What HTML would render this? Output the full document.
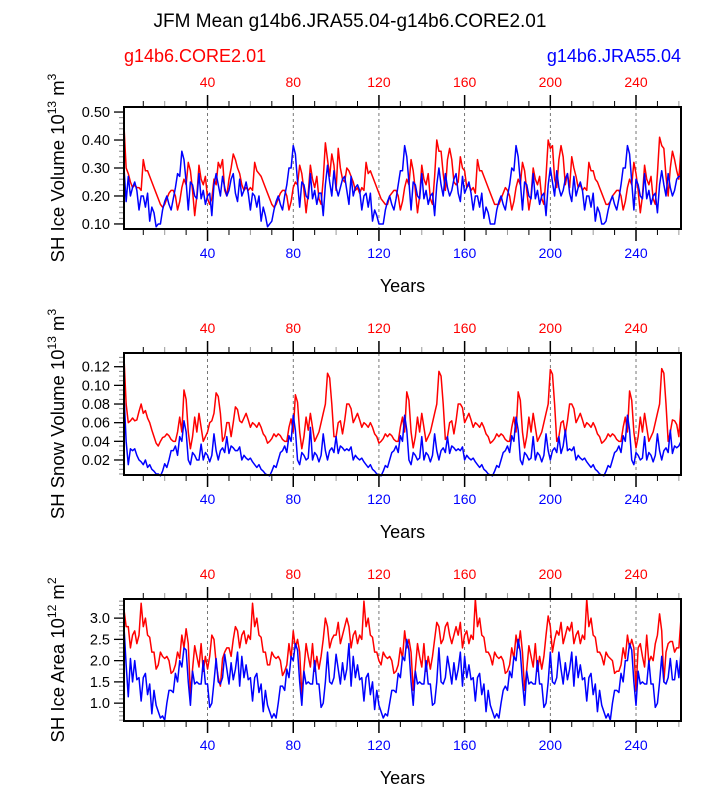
<!DOCTYPE html>
<html><head><meta charset="utf-8"><style>
html,body{margin:0;padding:0;background:#fff}
svg{display:block;font-family:"Liberation Sans",Arial,sans-serif}
</style></head><body>
<svg id="chart" width="723" height="785" viewBox="0 0 723 785">
<text x="350" y="27" font-size="19" text-anchor="middle">JFM Mean g14b6.JRA55.04-g14b6.CORE2.01</text>
<text x="124" y="62" font-size="18" fill="#ff0000">g14b6.CORE2.01</text>
<text x="681" y="62" font-size="18" fill="#0000ff" text-anchor="end">g14b6.JRA55.04</text>
</svg>
<script>
const xTicks = [40, 80, 120, 160, 200, 240];
const years0 = 1, years1 = 261;

const iceVolCore = [0.45,
0.30,0.28,0.25,0.23,0.24,0.23,0.23,0.22,0.33,0.29,0.29,0.27,0.25,0.23,0.21,0.19,0.17,0.16,0.17,0.19,0.21,0.22,0.22,0.20,0.15,0.18,0.23,0.26,0.24,0.32,0.29,0.22,0.13,0.20,0.31,0.26,0.24,0.27,0.19,0.17,0.19,0.26,0.24,0.32,0.30,0.33,0.22,0.20,0.26,0.30,0.35,0.33,
0.30,0.28,0.24,0.22,0.23,0.22,0.23,0.22,0.32,0.29,0.28,0.27,0.25,0.23,0.21,0.19,0.17,0.16,0.17,0.19,0.21,0.22,0.22,0.20,0.15,0.18,0.23,0.25,0.24,0.31,0.28,0.22,0.14,0.21,0.31,0.26,0.23,0.27,0.19,0.17,0.26,0.39,0.33,0.27,0.35,0.31,0.22,0.37,0.30,0.26,0.25,0.30,
0.29,0.27,0.25,0.22,0.23,0.21,0.23,0.22,0.32,0.28,0.29,0.27,0.25,0.23,0.21,0.19,0.18,0.17,0.17,0.20,0.21,0.22,0.22,0.20,0.15,0.18,0.23,0.26,0.24,0.33,0.29,0.22,0.14,0.20,0.31,0.26,0.24,0.28,0.19,0.17,0.27,0.40,0.36,0.36,0.28,0.22,0.33,0.37,0.33,0.25,0.24,0.25,
0.34,0.30,0.29,0.23,0.24,0.22,0.23,0.21,0.33,0.29,0.29,0.27,0.25,0.23,0.21,0.19,0.17,0.17,0.17,0.19,0.21,0.23,0.22,0.20,0.15,0.18,0.23,0.26,0.24,0.32,0.29,0.22,0.15,0.20,0.30,0.26,0.24,0.27,0.19,0.17,0.27,0.40,0.37,0.38,0.26,0.23,0.33,0.38,0.34,0.24,0.28,0.23,
0.34,0.30,0.27,0.23,0.24,0.22,0.23,0.22,0.32,0.29,0.29,0.26,0.25,0.23,0.21,0.19,0.17,0.17,0.18,0.20,0.21,0.22,0.22,0.20,0.15,0.18,0.23,0.26,0.24,0.32,0.28,0.22,0.14,0.20,0.31,0.26,0.24,0.27,0.19,0.17,0.28,0.41,0.38,0.37,0.27,0.20,0.30,0.36,0.33,0.29,0.26,0.37];

const iceVolJra = [0.30,
0.18,0.27,0.20,0.23,0.25,0.22,0.15,0.20,0.20,0.16,0.21,0.11,0.16,0.14,0.09,0.10,0.10,0.15,0.18,0.20,0.17,0.15,0.19,0.23,0.28,0.27,0.36,0.33,0.25,0.15,0.25,0.24,0.20,0.19,0.28,0.19,0.22,0.17,0.20,0.21,0.13,0.24,0.28,0.24,0.20,0.27,0.23,0.20,0.22,0.26,0.28,0.21,
0.18,0.26,0.20,0.22,0.25,0.21,0.15,0.21,0.20,0.16,0.20,0.11,0.16,0.13,0.09,0.10,0.11,0.15,0.18,0.20,0.17,0.15,0.20,0.24,0.30,0.30,0.38,0.35,0.25,0.16,0.25,0.24,0.20,0.19,0.28,0.19,0.22,0.17,0.21,0.21,0.13,0.24,0.31,0.25,0.20,0.29,0.23,0.20,0.23,0.26,0.27,0.22,
0.17,0.27,0.20,0.23,0.24,0.22,0.15,0.20,0.21,0.16,0.21,0.11,0.15,0.13,0.10,0.10,0.10,0.15,0.18,0.20,0.17,0.15,0.19,0.24,0.29,0.29,0.38,0.34,0.25,0.15,0.25,0.24,0.20,0.19,0.28,0.19,0.22,0.17,0.20,0.21,0.13,0.24,0.30,0.24,0.20,0.28,0.23,0.20,0.22,0.26,0.28,0.21,
0.18,0.27,0.21,0.23,0.25,0.21,0.15,0.20,0.20,0.16,0.21,0.12,0.16,0.14,0.10,0.10,0.10,0.15,0.18,0.20,0.17,0.15,0.20,0.24,0.30,0.29,0.38,0.34,0.25,0.15,0.25,0.24,0.20,0.19,0.28,0.19,0.22,0.17,0.20,0.21,0.13,0.24,0.30,0.25,0.20,0.29,0.23,0.20,0.22,0.26,0.28,0.21,
0.18,0.27,0.20,0.23,0.25,0.22,0.15,0.20,0.20,0.16,0.21,0.11,0.16,0.14,0.10,0.10,0.11,0.15,0.18,0.20,0.17,0.15,0.19,0.24,0.30,0.30,0.38,0.35,0.25,0.15,0.26,0.24,0.20,0.19,0.28,0.19,0.22,0.17,0.20,0.21,0.14,0.24,0.29,0.24,0.20,0.28,0.23,0.20,0.22,0.26,0.27,0.27];

const snowVolCore = [0.13,
.080,.060,.062,.065,.062,.063,.072,.080,.070,.073,.065,.060,.052,.045,.038,.035,.040,.044,.045,.048,.046,.042,.040,.040,.050,.066,.050,.095,.085,.050,.032,.045,.066,.050,.070,.055,.040,.045,.050,.060,.062,.070,.092,.088,.070,.040,.045,.060,.060,.045,.060,.077,
.074,.062,.060,.065,.070,.063,.055,.060,.058,.055,.060,.055,.048,.045,.038,.040,.043,.048,.045,.048,.046,.042,.040,.040,.055,.064,.050,.090,.082,.050,.032,.045,.066,.052,.070,.055,.040,.045,.050,.060,.070,.080,.113,.108,.080,.045,.045,.060,.062,.048,.062,.080,
.080,.075,.060,.065,.070,.063,.055,.060,.058,.055,.060,.055,.048,.045,.038,.040,.043,.048,.045,.048,.046,.042,.040,.040,.055,.066,.050,.093,.084,.050,.033,.045,.066,.050,.070,.055,.040,.045,.050,.060,.070,.080,.115,.110,.080,.042,.045,.060,.062,.048,.062,.080,
.080,.076,.060,.065,.070,.063,.055,.060,.058,.055,.060,.055,.048,.045,.038,.040,.043,.048,.045,.048,.046,.042,.040,.040,.055,.066,.050,.093,.084,.050,.033,.045,.066,.050,.070,.055,.040,.045,.050,.060,.070,.080,.117,.112,.080,.040,.045,.060,.062,.048,.062,.080,
.080,.075,.060,.065,.070,.063,.055,.060,.058,.055,.060,.055,.048,.045,.038,.040,.043,.048,.045,.048,.046,.042,.040,.040,.055,.066,.050,.094,.084,.050,.033,.045,.066,.050,.070,.055,.040,.045,.050,.060,.070,.080,.118,.113,.080,.040,.050,.063,.062,.058,.045,.080];

const snowVolJra = [0.09,
.040,.015,.032,.030,.032,.025,.020,.018,.015,.020,.012,.015,.010,.008,.005,.005,.003,.008,.016,.012,.020,.030,.030,.035,.025,.045,.040,.062,.050,.020,.015,.028,.025,.020,.020,.037,.020,.028,.025,.018,.025,.048,.030,.020,.030,.033,.028,.045,.027,.035,.033,.030,
.030,.034,.020,.025,.022,.020,.022,.018,.015,.012,.015,.010,.008,.005,.004,.003,.008,.014,.012,.020,.028,.030,.035,.028,.046,.040,.068,.052,.020,.015,.028,.025,.020,.022,.055,.020,.028,.025,.018,.025,.048,.030,.020,.030,.033,.028,.045,.027,.035,.033,.030,.032,
.030,.034,.020,.025,.022,.020,.022,.018,.015,.012,.015,.010,.008,.005,.004,.003,.008,.014,.012,.020,.028,.030,.035,.028,.046,.040,.068,.052,.020,.015,.028,.025,.020,.022,.045,.020,.028,.025,.018,.025,.048,.030,.020,.030,.033,.028,.045,.027,.035,.033,.030,.032,
.030,.034,.020,.025,.022,.020,.022,.018,.015,.012,.015,.010,.008,.005,.004,.003,.008,.014,.012,.020,.028,.030,.035,.028,.046,.040,.066,.052,.020,.015,.028,.025,.020,.022,.045,.020,.028,.025,.018,.025,.048,.030,.020,.030,.033,.028,.045,.027,.035,.052,.030,.032,
.030,.034,.020,.025,.022,.020,.022,.018,.015,.012,.015,.010,.008,.005,.004,.003,.008,.014,.012,.020,.028,.030,.035,.028,.046,.040,.068,.052,.020,.015,.028,.025,.020,.022,.045,.020,.028,.025,.018,.025,.048,.030,.020,.030,.033,.028,.052,.027,.035,.033,.035,.040];

const iceAreaCore = [3.2,
2.8,2.8,2.3,2.6,2.7,2.4,2.6,3.35,2.8,3.0,2.6,2.55,2.2,2.2,1.8,1.9,2.2,2.1,2.05,2.1,2.0,1.7,1.75,1.9,2.2,2.05,2.6,2.3,2.75,2.4,1.2,1.8,2.35,2.1,1.85,2.4,1.75,2.1,1.8,2.1,2.6,2.5,1.95,1.6,1.4,2.05,2.2,2.3,2.3,2.1,2.5,2.8,
2.7,2.3,2.6,2.7,2.4,2.6,2.5,3.35,2.8,3.0,2.6,2.55,2.2,2.2,1.9,1.9,2.2,2.1,2.05,2.1,2.0,1.65,1.75,1.9,2.4,2.05,2.7,2.3,2.5,2.2,1.2,1.8,2.4,2.1,1.85,2.4,1.75,2.1,1.8,2.1,2.5,3.0,2.8,2.3,2.5,2.6,2.6,2.9,2.4,2.6,2.8,3.0,
2.8,2.3,2.6,2.7,2.4,2.6,2.5,3.4,2.8,3.0,2.6,2.55,2.2,2.2,2.0,1.9,2.2,2.1,2.05,2.1,2.0,1.7,1.75,1.9,2.3,2.05,2.7,2.3,2.5,2.2,1.3,1.8,2.4,2.1,1.85,2.4,1.75,2.1,1.8,2.1,2.5,2.9,2.8,2.4,2.5,2.8,2.9,2.6,2.4,2.6,2.8,2.6,
2.9,2.3,2.6,2.7,2.4,2.6,2.5,3.45,2.8,3.0,2.6,2.55,2.2,2.2,2.1,1.9,2.2,2.1,2.05,2.1,2.0,1.7,1.75,1.9,2.3,2.05,2.6,2.3,2.7,2.2,1.3,1.8,2.35,2.1,1.85,2.4,1.75,2.1,1.8,2.1,2.6,3.05,2.8,2.2,2.5,2.7,2.6,2.9,2.4,2.6,2.8,2.7,
2.9,2.4,2.6,2.7,2.4,2.6,2.5,3.45,2.8,3.0,2.6,2.55,2.2,2.2,2.1,1.9,2.2,2.1,2.05,2.0,1.7,1.75,1.75,1.9,2.3,2.05,2.6,2.3,2.5,2.3,1.3,2.3,2.4,2.1,1.85,2.6,1.95,2.1,2.0,2.4,2.6,3.1,2.7,1.5,2.2,2.4,2.45,2.45,2.2,2.3,2.3,3.0];

const iceAreaJra = [2.8,
1.9,1.15,2.05,1.5,2.0,1.55,1.6,1.05,1.6,1.7,1.2,1.45,0.75,1.3,0.95,0.8,0.65,0.7,0.6,1.0,1.3,1.3,1.25,1.7,1.5,2.0,1.85,2.3,2.25,1.5,0.95,1.75,1.45,1.5,1.45,1.45,2.0,1.45,1.45,0.9,1.0,1.5,2.05,1.5,1.45,1.6,2.15,1.8,1.45,1.95,1.55,1.8,
2.2,1.4,2.1,1.6,1.9,1.55,1.6,1.05,1.6,1.7,1.25,1.45,0.8,1.3,0.95,0.8,0.65,0.75,0.65,1.0,1.4,1.4,1.3,1.8,1.6,2.1,2.0,2.4,2.25,1.5,0.95,1.75,1.45,1.5,1.45,1.45,2.0,1.45,1.45,0.9,1.0,1.5,2.2,1.5,1.45,1.6,2.15,1.8,1.45,1.95,1.55,1.8,
2.4,1.4,2.1,1.6,1.9,1.55,1.6,1.05,1.6,1.7,1.2,1.5,0.85,1.3,0.95,0.8,0.65,0.75,0.7,1.0,1.3,1.3,1.25,1.7,1.6,2.1,2.0,2.5,2.25,1.5,0.95,1.75,1.45,1.5,1.45,1.45,2.0,1.45,1.45,0.95,1.0,1.5,2.3,1.5,1.45,1.6,2.1,1.8,1.45,1.95,1.55,1.8,
2.2,1.4,2.1,1.6,1.9,1.55,1.6,1.05,1.6,1.7,1.2,1.45,0.8,1.3,0.95,0.8,0.65,0.75,0.65,1.0,1.3,1.4,1.3,1.75,1.6,2.1,2.0,2.5,2.2,1.5,0.95,1.75,1.45,1.5,1.45,1.45,2.0,1.45,1.45,0.9,1.0,1.5,2.2,1.5,1.45,1.6,2.2,1.8,1.45,1.95,1.55,1.8,
2.2,1.4,2.1,1.6,1.9,1.55,1.6,1.05,1.6,1.7,1.2,1.45,0.8,1.3,0.95,0.8,0.65,0.75,0.6,1.0,1.3,1.3,1.25,1.7,1.5,2.0,2.0,2.4,2.25,1.5,0.95,1.75,1.45,1.5,1.45,1.45,2.0,1.45,1.45,0.9,1.0,1.5,2.1,1.5,1.45,1.6,2.05,1.55,1.55,2.0,1.6,2.2];

const yTicks1 = [0.10, 0.20, 0.30, 0.40, 0.50];
const yTickLabels1 = ["0.10", "0.20", "0.30", "0.40", "0.50"];
const yTicks2 = [0.02, 0.04, 0.06, 0.08, 0.10, 0.12];
const yTickLabels2 = ["0.02", "0.04", "0.06", "0.08", "0.10", "0.12"];
const yTicks3 = [1.0, 1.5, 2.0, 2.5, 3.0];
const yTickLabels3 = ["1.0", "1.5", "2.0", "2.5", "3.0"];

const NS = "http://www.w3.org/2000/svg";
const svg = document.getElementById("chart");
function mk(tag, attrs, parent) {
  const e = document.createElementNS(NS, tag);
  for (const k in attrs) e.setAttribute(k, attrs[k]);
  (parent || svg).appendChild(e);
  return e;
}
const X0 = 124, X1 = 681;
function xs(yr) { return X0 + (yr - years0) / (years1 - years0) * (X1 - X0); }

const panels = [
  {key:"ice-volume", top:107, bot:229, ymin:0.082, ymax:0.518, ticks:yTicks1, labels:yTickLabels1, minor:0.02, red:iceVolCore, blue:iceVolJra, title:["SH Ice Volume 10","13"," m","3"]},
  {key:"snow-volume", top:353, bot:475, ymin:0.0039, ymax:0.1347, ticks:yTicks2, labels:yTickLabels2, minor:0.005, red:snowVolCore, blue:snowVolJra, title:["SH Snow Volume 10","13"," m","3"]},
  {key:"ice-area", top:599, bot:721, ymin:0.58, ymax:3.45, ticks:yTicks3, labels:yTickLabels3, minor:0.1, red:iceAreaCore, blue:iceAreaJra, title:["SH Ice Area 10","12"," m","2"]}
];

panels.forEach(p => {
  const g = mk("g", {});
  
  
  const ys = v => p.bot - (v - p.ymin) / (p.ymax - p.ymin) * (p.bot - p.top);
  xTicks.forEach(t => {
    const l = mk("line", {x1:xs(t), x2:xs(t), y1:p.top, y2:p.bot, stroke:"#555", "stroke-width":0.8, "stroke-dasharray":"3,3"}, g);
    
    
  });
  for (let t = 10; t <= 260; t += 10) {
    const major = t % 40 === 0;
    const len = major ? 12 : 6;
    const col = major ? "#000" : (t % 20 === 0 ? "#999" : "#000");
    mk("line", {x1:xs(t), x2:xs(t), y1:p.top, y2:p.top - len, stroke:col, "stroke-width":major?1.5:1}, g);
    mk("line", {x1:xs(t), x2:xs(t), y1:p.bot, y2:p.bot + len, stroke:col, "stroke-width":major?1.5:1}, g);
  }
  xTicks.forEach(t => {
    const a = mk("text", {x:xs(t), y:p.top - 20, "font-size":14, fill:"#ff0000", "text-anchor":"middle"}, g);
    a.textContent = t;
    
    
    const b = mk("text", {x:xs(t), y:p.bot + 29, "font-size":14, fill:"#0000ff", "text-anchor":"middle"}, g);
    b.textContent = t;
    
    
  });
  for (let v = Math.ceil(p.ymin / p.minor) * p.minor; v <= p.ymax + 1e-9; v += p.minor) {
    mk("line", {x1:X0, x2:X0 - 5, y1:ys(v), y2:ys(v), stroke:"#888", "stroke-width":1}, g);
  }
  p.ticks.forEach((v, i) => {
    mk("line", {x1:X0, x2:X0 - 10, y1:ys(v), y2:ys(v), stroke:"#000", "stroke-width":1.3}, g);
    const t = mk("text", {x:X0 - 14, y:ys(v) + 5, "font-size":14.5, "text-anchor":"end"}, g);
    t.textContent = p.labels[i];
    
    
  });
  [[p.red, "#ff0000", "core-series-line"], [p.blue, "#0000ff", "jra-series-line"]].forEach(([arr, col, nm]) => {
    const d = arr.map((v, i) => (i ? "L" : "M") + xs(years0 + i).toFixed(2) + "," + ys(v).toFixed(2)).join("");
    const path = mk("path", {d:d, fill:"none", stroke:col, "stroke-width":1.5, "stroke-linejoin":"round"}, g);
    
    
  });
  const box = mk("rect", {x:X0, y:p.top, width:X1 - X0, height:p.bot - p.top, fill:"none", stroke:"#000", "stroke-width":2}, g);
  
  
  const xt = mk("text", {x:(X0 + X1) / 2, y:p.bot + 63, "font-size":18, "text-anchor":"middle"}, g);
  xt.textContent = "Years";
  
  
  const cy = (p.top + p.bot) / 2;
  const yt = mk("text", {x:0, y:0, "font-size":18.5, "text-anchor":"middle", transform:`translate(64,${cy}) rotate(-90)`}, g);
  
  
  p.title.forEach((s, i) => {
    const ts = mk("tspan", {}, yt);
    if (i % 2 === 1) { ts.setAttribute("font-size", 12); ts.setAttribute("dy", -8); }
    else if (i > 0) { ts.setAttribute("dy", 8); }
    ts.textContent = s;
  });
});
</script>
</body></html>
